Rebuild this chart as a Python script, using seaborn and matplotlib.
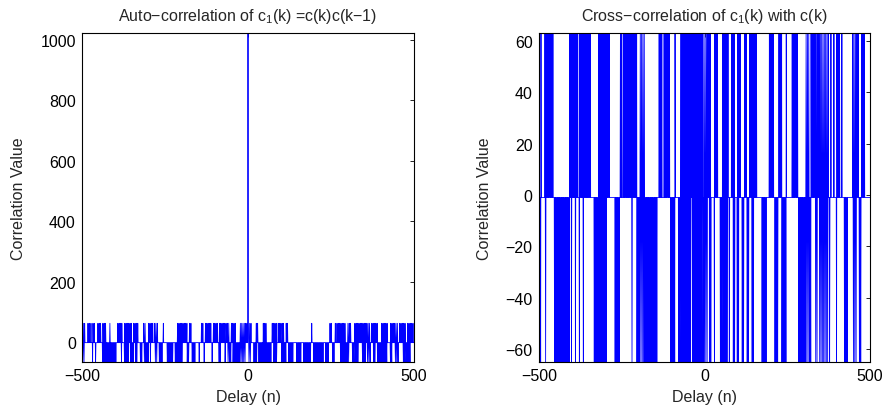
import numpy as np
import pandas as pd
import matplotlib
matplotlib.use("Agg")
import matplotlib.pyplot as plt
import seaborn as sns

# ---------------- data ----------------
lag_min, lag_max = -500, 500
base_value = -1          # off-peak baseline value
peak_value = 1023        # autocorrelation peak at lag 0
hi_value = 63            # upper correlation level
lo_value = -65           # lower correlation level

# lag ranges in which the auto-correlation reaches +63 / -65
auto_hi_ranges = [(-500, -489), (-482, -477), (-473, -471), (-467, -456), (-452, -441),
                  (-437, -429), (-416, -414), (-392, -378), (-371, -351), (-344, -330),
                  (-314, -309), (-299, -285), (-281, -270), (-263, -255), (-212, -204),
                  (-200, -183), (-176, -165), (-140, -135), (-128, -120), (-116, -90),
                  (-86, -57), (-50, -36), (-23, 12), (25, 42), (46, 57), (61, 87),
                  (91, 108), (115, 138), (172, 192), (202, 213), (247, 264), (268, 294),
                  (301, 309), (322, 369), (373, 390), (403, 420), (430, 453), (457, 474),
                  (481, 500)]
auto_lo_ranges = [(-500, -493), (-470, -468), (-461, -459), (-440, -396), (-383, -381),
                  (-374, -360), (-356, -345), (-341, -333), (-326, -318), (-314, -300),
                  (-296, -291), (-281, -273), (-269, -258), (-245, -225), (-221, -198),
                  (-185, -177), (-170, -159), (-149, -144), (-134, -129), (-110, -105),
                  (-89, -81), (-71, -69), (-62, -51), (-47, -6), (1, 9), (16, 27),
                  (31, 69), (76, 87), (100, 114), (121, 138), (145, 159), (166, 189),
                  (196, 228), (232, 243), (253, 261), (277, 303), (313, 333), (343, 354),
                  (358, 369), (376, 384), (388, 420), (427, 435), (442, 453), (466, 489)]

# lag ranges in which the cross-correlation reaches +63 / -65
cross_hi_ranges = [(-494, -492), (-482, -456), (-449, -447), (-407, -381), (-377, -342),
                   (-320, -285), (-266, -249), (-245, -204), (-194, -180), (-137, -126),
                   (-122, -96), (-89, -87), (-71, -27), (-23, -6), (-2, 18), (31, 39),
                   (55, 63), (67, 78), (82, 90), (100, 108), (118, 129), (133, 159),
                   (178, 189), (196, 210), (217, 234), (247, 249), (265, 288), (307, 315),
                   (322, 384), (391, 393), (400, 408), (415, 417), (427, 432), (448, 471),
                   (475, 483)]
cross_lo_ranges = [(-497, -495), (-482, -480), (-455, -408), (-404, -402), (-392, -390),
                   (-380, -378), (-368, -366), (-335, -294), (-272, -255), (-221, -216),
                   (-206, -141), (-104, -87), (-80, -42), (-38, 9), (13, 21), (28, 33),
                   (46, 69), (73, 78), (85, 93), (97, 105), (112, 120), (127, 135),
                   (142, 150), (172, 189), (211, 222), (232, 249), (283, 324), (334, 342),
                   (346, 372), (376, 378), (397, 402), (421, 432), (448, 459), (466, 474)]

x_ticks = [-500, 0, 500]
x_tick_labels = ["\u2212500", "0", "500"]
auto_y_ticks = [0, 200, 400, 600, 800, 1000]
cross_y_ticks = [-60, -40, -20, 0, 20, 40, 60]


def build(hi_ranges, lo_ranges, step=4):
    lags = np.arange(lag_min, lag_max + 1)
    vals = np.full(lags.shape, float(base_value))
    for a, b in hi_ranges:
        vals[np.isin(lags, np.arange(a, b + 1, step))] = hi_value
    for a, b in lo_ranges:
        first = min(a + 2, b)
        vals[np.isin(lags, np.arange(first, b + 1, step))] = lo_value
    return lags, vals


lags_a, auto_vals = build(auto_hi_ranges, auto_lo_ranges)
auto_vals[lags_a == 0] = peak_value
lags_c, cross_vals = build(cross_hi_ranges, cross_lo_ranges)

df_auto = pd.DataFrame({"lag": lags_a, "value": auto_vals})
df_cross = pd.DataFrame({"lag": lags_c, "value": cross_vals})

# ---------------- styling ----------------
sns.set_style("white")
plt.rcParams["font.family"] = ["Liberation Sans", "DejaVu Sans"]
plt.rcParams["mathtext.fontset"] = "custom"
plt.rcParams["mathtext.rm"] = "Liberation Sans"
plt.rcParams["mathtext.it"] = "Liberation Sans"
plt.rcParams["mathtext.bf"] = "Liberation Sans"

fig = plt.figure(figsize=(8.85, 4.14), dpi=100)
ax1 = fig.add_axes([82 / 885, 51 / 414, 332 / 885, 329 / 414])
ax2 = fig.add_axes([539 / 885, 51 / 414, 331 / 885, 329 / 414])

blue = (0, 0, 1)
sns.lineplot(data=df_auto, x="lag", y="value", ax=ax1, color=blue, linewidth=0.6,
             estimator=None, sort=True)
sns.lineplot(data=df_cross, x="lag", y="value", ax=ax2, color=blue, linewidth=0.6,
             estimator=None, sort=True)

ax1.set_xlim(lag_min, lag_max)
ax1.set_ylim(lo_value, peak_value)
ax1.set_yticks(auto_y_ticks)
ax2.set_xlim(lag_min, lag_max)
ax2.set_ylim(lo_value, hi_value)
ax2.set_yticks(cross_y_ticks)

fs = 11.5
ax1.set_title("Auto\u2212correlation of c$_1$(k) =c(k)c(k\u22121)", fontsize=fs, pad=9)
ax2.set_title("Cross\u2212correlation of c$_1$(k) with c(k)", fontsize=fs, pad=9)

for ax in (ax1, ax2):
    ax.set_xticks(x_ticks)
    ax.set_xticklabels(x_tick_labels)
    ax.set_xlabel("Delay (n)", fontsize=fs, labelpad=4)
    ax.set_ylabel("Correlation Value", fontsize=fs, labelpad=10)
    ax.tick_params(direction="in", length=3, width=0.6, top=True, right=True,
                   labelsize=fs, colors="black", pad=4.5)
    for s in ax.spines.values():
        s.set_visible(True)
        s.set_color("black")
        s.set_linewidth(0.8)
    ax.set_facecolor("white")
    ax.grid(False)

fig.savefig("out.png", dpi=100, facecolor="white")
